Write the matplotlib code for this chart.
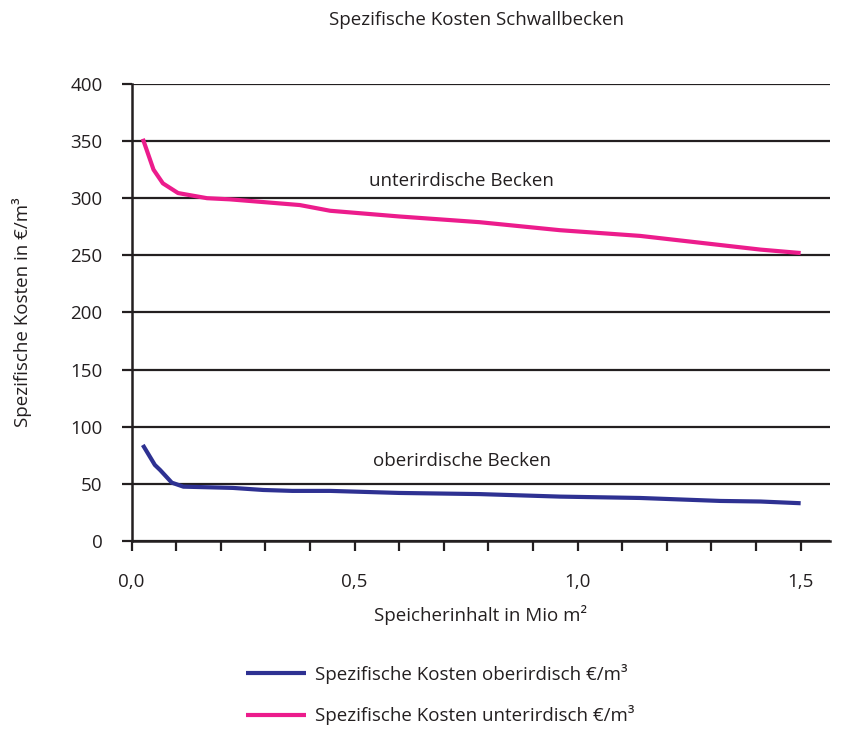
import matplotlib
matplotlib.use("Agg")
import matplotlib.pyplot as plt
from matplotlib.ticker import MultipleLocator, FuncFormatter

plt.rcParams['font.family'] = ['Open Sans', 'DejaVu Sans']

title = "Spezifische Kosten Schwallbecken"
xlabel = "Speicherinhalt in Mio m²"
ylabel = "Spezifische Kosten in €/m³"

x_unter = [0.025, 0.049, 0.07, 0.104, 0.169, 0.22, 0.377, 0.445, 0.6, 0.78, 0.96, 1.14, 1.32, 1.41, 1.5]
y_unter = [352, 325, 313, 304.5, 300, 299, 294, 289, 284, 279, 272, 267, 259, 255, 252]

x_ober = [0.025, 0.052, 0.064, 0.09, 0.116, 0.168, 0.227, 0.295, 0.36, 0.445, 0.6, 0.78, 0.96, 1.14, 1.32, 1.41, 1.5]
y_ober = [84, 66.5, 62, 51, 47.5, 47, 46.4, 44.6, 43.8, 43.8, 42, 41, 38.8, 37.6, 35, 34.5, 33]

label_ober = "Spezifische Kosten oberirdisch €/m³"
label_unter = "Spezifische Kosten unterirdisch €/m³"

c_ober = "#2E3192"
c_unter = "#EC1C8C"
tc = '#231f20'
fs = 13.5

fig = plt.figure(figsize=(8.44, 7.30), dpi=100)
ax = fig.add_axes([0.156, 0.259, 0.827, 0.626])

l1, = ax.plot(x_ober, y_ober, color=c_ober, lw=3, solid_capstyle='butt', zorder=3, label=label_ober)
l2, = ax.plot(x_unter, y_unter, color=c_unter, lw=3, solid_capstyle='butt', zorder=3, label=label_unter)

ax.set_xlim(0, 1.565)
ax.set_ylim(0, 400)
ax.yaxis.set_major_locator(MultipleLocator(50))
ax.xaxis.set_major_locator(MultipleLocator(0.1))
def xfmt(v, pos):
    r = round(v * 10)
    if r % 5 == 0:
        return f"{v:.1f}".replace('.', ',')
    return ""
ax.xaxis.set_major_formatter(FuncFormatter(xfmt))

ax.grid(axis='y', color=tc, lw=1.6, zorder=1)
for s in ['top', 'right']:
    ax.spines[s].set_visible(False)
for s in ['left', 'bottom']:
    ax.spines[s].set_color(tc)
    ax.spines[s].set_linewidth(1.8)
ax.tick_params(axis='both', colors=tc, width=1.6, length=7, labelsize=fs, labelcolor=tc)
ax.tick_params(axis='x', pad=16)
ax.tick_params(axis='y', pad=14)

ax.set_xlabel(xlabel, fontsize=fs, color=tc, va='center')
ax.set_ylabel(ylabel, fontsize=fs, color=tc, va='center')
ax.xaxis.set_label_coords(0.5, -0.162)
ax.yaxis.set_label_coords(-0.157, 0.5)
fig.text(0.565, 0.972, title, ha='center', va='center', fontsize=fs, color=tc)

ax.text(0.74, 315, "unterirdische Becken", ha='center', va='center', fontsize=fs, color=tc)
ax.text(0.74, 70, "oberirdische Becken", ha='center', va='center', fontsize=fs, color=tc)

fig.legend(handles=[l1, l2], loc='upper left', bbox_to_anchor=(0.283, 0.101), frameon=False,
           fontsize=fs, handlelength=3.2, handletextpad=0.45, labelspacing=1.15,
           labelcolor=tc, borderaxespad=0)

fig.savefig("out.png", dpi=100)
